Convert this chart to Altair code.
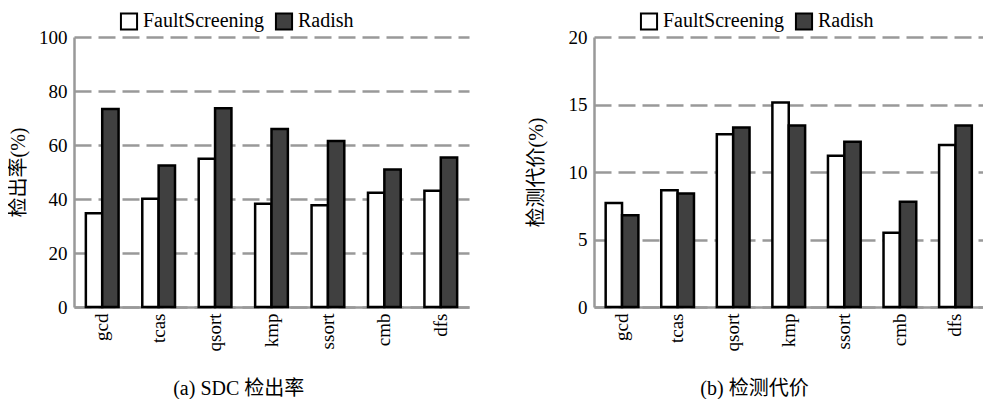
import altair as alt
import pandas as pd

benchmarks = ["gcd", "tcas", "qsort", "kmp", "ssort", "cmb", "dfs"]
methods = ["FaultScreening", "Radish"]
rate_fs = [34.7, 40.1, 54.9, 38.2, 37.7, 42.3, 43.1]
rate_radish = [73.3, 52.4, 73.6, 65.9, 61.5, 50.9, 55.4]
cost_fs = [7.7, 8.65, 12.8, 15.15, 11.2, 5.5, 12.0]
cost_radish = [6.8, 8.4, 13.3, 13.45, 12.25, 7.8, 13.45]

rate_ticks = [0, 20, 40, 60, 80, 100]
cost_ticks = [0, 5, 10, 15, 20]

SERIF = "Liberation Serif, serif"
MIXED = "Liberation Serif, Noto Sans CJK SC, serif"


def make_df(fs, rd):
    rows = []
    for b, a, c in zip(benchmarks, fs, rd):
        rows.append({"benchmark": b, "method": methods[0], "value": a})
        rows.append({"benchmark": b, "method": methods[1], "value": c})
    return pd.DataFrame(rows)


def panel(df, ytitle, ticks, caption, title_pad, width):
    return alt.Chart(df).mark_bar(stroke="black", strokeWidth=2.5).encode(
        x=alt.X("benchmark:N", sort=benchmarks,
                scale=alt.Scale(paddingInner=0.42, paddingOuter=0.21),
                axis=alt.Axis(title=None, labelAngle=-90, ticks=False, labelPadding=6,
                              labelFont=SERIF, labelFontSize=19, labelColor="black",
                              domainColor="#999999", domainWidth=2.5, grid=False)),
        xOffset=alt.XOffset("method:N", sort=methods,
                            scale=alt.Scale(paddingInner=0, paddingOuter=0)),
        y=alt.Y("value:Q", scale=alt.Scale(domain=[ticks[0], ticks[-1]], nice=False),
                axis=alt.Axis(title=ytitle, values=ticks, ticks=False, labelPadding=7,
                              labelFont=SERIF, labelFontSize=19, labelColor="black",
                              titleFont=MIXED, titleFontSize=20, titleFontWeight="normal",
                              titleColor="black", titlePadding=title_pad,
                              domainColor="#999999", domainWidth=2.5,
                              grid=True, gridColor="#999999", gridWidth=2.5,
                              gridDash=[17, 7])),
        fill=alt.Fill("method:N", sort=methods,
                      scale=alt.Scale(domain=methods, range=["white", "#404040"]),
                      legend=alt.Legend(title=None, orient="none", legendX=45, legendY=-26,
                                        direction="horizontal", symbolType="square",
                                        symbolSize=260, symbolStrokeColor="black",
                                        symbolStrokeWidth=2, labelFont=SERIF,
                                        labelFontSize=20, labelColor="black",
                                        labelOffset=4, columnPadding=6)),
    ).properties(
        width=width, height=270,
        title=alt.TitleParams(caption, orient="bottom", frame="bounds", anchor="middle",
                              font=MIXED, fontSize=20, fontWeight="normal",
                              color="black", offset=28),
    )


left = panel(make_df(rate_fs, rate_radish), "检出率(%)", rate_ticks,
             "(a) SDC 检出率", 10, 395)
right = panel(make_df(cost_fs, cost_radish), "检测代价(%)", cost_ticks,
              "(b)  检测代价", 22, 389)

chart = alt.hconcat(left, right, spacing=57).resolve_scale(
    fill="independent"
).properties(padding={"top": 3, "left": 0, "right": 0, "bottom": 0}).configure_view(stroke=None)

chart.save("out.html", embed_options={"renderer": "svg", "actions": False})
